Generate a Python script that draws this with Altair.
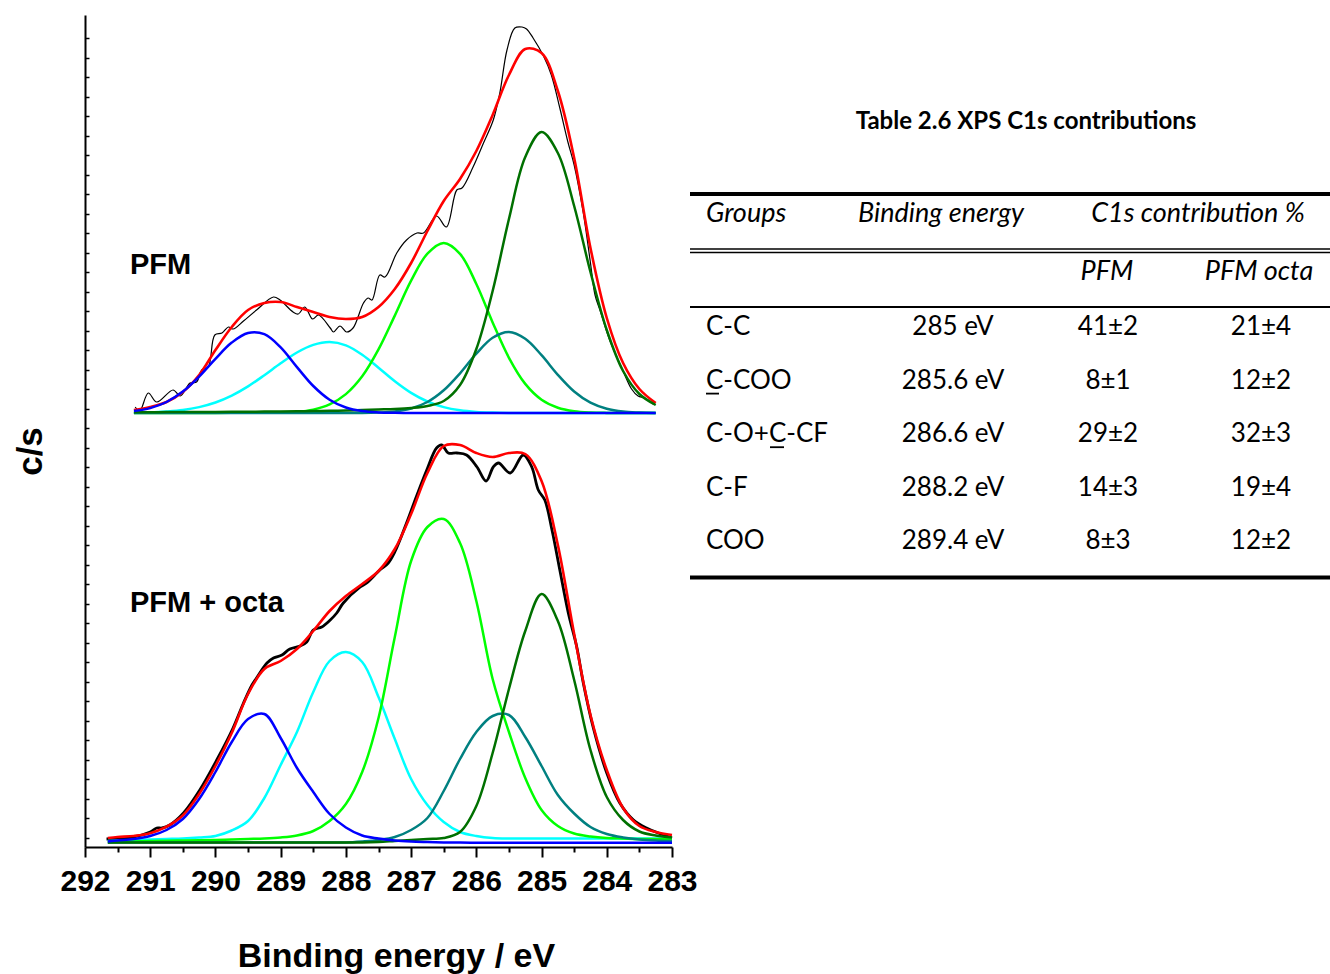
import altair as alt
import pandas as pd

# ------------------------------------------------------------------
# Values (XPS C1s spectra, c/s in a.u.)
# ------------------------------------------------------------------
PANELS = ["PFM", "PFM + octa"]
PANEL_OFFSET = [434, 4]          # vertical stacking offset of each spectrum (c/s, a.u.)

COMPONENTS = ["C-C", "C-COO", "C-O+C-CF", "C-F", "COO"]
COMP_COLORS = ["#007000", "#008080", "#00ff00", "#00ffff", "#0000ff"]

# ---------------- PFM (upper spectrum) ----------------
E_PFM = [291.25, 291.0, 290.75, 290.5, 290.25, 290.0, 289.75, 289.5, 289.25, 289.0,
         288.75, 288.5, 288.25, 288.0, 287.75, 287.5, 287.25, 287.0, 286.75, 286.5,
         286.25, 286.0, 285.75, 285.5, 285.25, 285.0, 284.75, 284.5, 284.25, 284.0,
         283.75, 283.5, 283.25]
PFM_CC = [0.7, 0.8, 0.9, 1.0, 1.0, 1.1, 1.2, 1.3, 1.4, 1.5,
          1.7, 2.0, 2.2, 2.5, 3.0, 3.5, 4.0, 5.0, 7.0, 12,
          28, 64, 122, 194, 256, 281, 260, 207, 141, 83,
          42, 19, 8]
PFM_CCOO = [0, 0, 0, 0, 0, 0, 0, 0, 0, 0,
            0, 0, 0, 0, 0, 0.5, 1.6, 4.5, 11, 22.7,
            39.7, 59.3, 75.2, 81, 74.2, 57.8, 38.2, 21.5, 10.3, 4.2,
            1.4, 0.5, 0.1]
PFM_CO = [0, 0, 0, 0, 0, 0.1, 0.2, 0.3, 0.4, 0.6,
          1.2, 3.4, 8.6, 18.9, 36.7, 63.6, 97.4, 132.3, 159.3, 170,
          159.1, 129, 90.6, 55.2, 29.1, 13.3, 5.3, 1.8, 0.5, 0.1,
          0, 0, 0]
PFM_CF = [0.3, 0.6, 1.5, 3.0, 5.9, 10.5, 17.4, 26.6, 37.8, 49.7,
          60.5, 68.1, 71.0, 67.7, 58.3, 45.3, 31.7, 20.1, 11.5, 5.9,
          2.7, 1.1, 0.4, 0.1, 0, 0, 0, 0, 0, 0,
          0, 0, 0]
PFM_COO = [1.9, 4.9, 11.0, 21.4, 36.4, 54.2, 70.4, 80.0, 78.8, 65.6,
           45.9, 27.0, 13.3, 5.5, 1.9, 0.6, 0.2, 0, 0, 0,
           0, 0, 0, 0, 0, 0, 0, 0, 0, 0,
           0, 0, 0]
PFM_FIT = [3, 6, 11, 21, 38, 63, 86, 103, 110, 111,
           106, 101, 96, 94, 96, 106, 124, 150, 182, 212,
           234, 262, 298, 338, 364, 360, 322, 255, 165, 95,
           50, 24, 10]
PFM_RAW_E = [291.23, 291.16, 291.03, 290.90, 290.65, 290.54, 290.39, 290.29, 290.21, 290.11,
             290.01, 289.90, 289.80, 289.73, 289.57, 289.37, 289.11, 289.01, 288.81, 288.73,
             288.63, 288.51, 288.42, 288.24, 288.19, 288.09, 287.99, 287.89, 287.73, 287.66,
             287.60, 287.48, 287.40, 287.22, 287.07, 286.91, 286.81, 286.61, 286.46, 286.30,
             286.22, 286.05, 285.89, 285.74, 285.64, 285.53, 285.41, 285.30, 285.23, 285.13,
             284.97, 284.85, 284.72, 284.60, 284.50, 284.36, 284.25, 284.18, 284.10, 283.95,
             283.75, 283.62, 283.52, 283.42, 283.29]
PFM_RAW = [6, 2, 20, 11, 23, 17, 30, 31, 43, 46,
           78, 80, 86, 84, 92, 103, 116, 113, 101, 99,
           106, 94, 98, 85, 81, 87, 81, 85, 110, 115,
           113, 138, 136, 160, 173, 180, 180, 197, 186, 223,
           225, 246, 270, 293, 320, 363, 385, 386, 384, 375,
           357, 338, 305, 272, 248, 200, 150, 118, 102, 72,
           42, 24, 17, 15, 9]

# ---------------- PFM + octa (lower spectrum) ----------------
E_OCTA = [291.65, 291.5, 291.25, 291.0, 290.75, 290.5, 290.25, 290.0, 289.75, 289.5,
          289.25, 289.0, 288.75, 288.5, 288.25, 288.0, 287.75, 287.5, 287.25, 287.0,
          286.75, 286.5, 286.25, 286.0, 285.75, 285.5, 285.25, 285.0, 284.75, 284.5,
          284.25, 284.0, 283.75, 283.5, 283.25, 283.0]
OCTA_CC = [0.5, 0.5, 0.5, 0.5, 0.5, 0.5, 0.5, 0.5, 0.5, 0.5,
           0.5, 0.5, 0.5, 0.5, 0.5, 0.5, 0.5, 1, 2, 3,
           4, 5, 11, 37, 90, 154, 212, 249, 222, 163,
           93, 46, 23, 11.5, 7.5, 5.5]
OCTA_CCOO = [0.5, 0.5, 0.5, 0.5, 0.5, 0.5, 0.5, 0.5, 0.5, 0.5,
             0.5, 0.5, 0.5, 0.5, 0.5, 0.5, 1.5, 3, 6, 13,
             25, 52, 84, 111, 127, 128, 106, 77, 48, 29.5,
             16, 9, 5.5, 3.5, 2.5, 2]
OCTA_CO = [1, 1.2, 1.5, 2, 2.2, 2.5, 2.8, 3, 3.5, 4,
           4.5, 5.5, 7.5, 12, 22, 39, 71, 125, 206, 282,
           316, 324, 300, 242, 164, 111, 65, 33, 17, 9.5,
           6.5, 5, 4.5, 4, 4, 3.5]
OCTA_CF = [2, 2.5, 3, 3.5, 4, 4.5, 5.5, 7, 12.5, 22,
           45, 78, 111, 151, 182, 191, 181, 146, 104, 64,
           38, 21, 11, 7, 5, 4.5, 4.5, 4.5, 4.5, 4.5,
           4.5, 4.5, 4.5, 4.5, 4.5, 4.5]
OCTA_COO = [1.5, 2.5, 4, 7, 13, 24, 44, 71, 101, 124,
            129, 105, 75, 51, 29, 15.5, 7.5, 4.5, 2.5, 1.5,
            1, 0.6, 0.4, 0.3, 0.2, 0.2, 0.2, 0.2, 0.2, 0.2,
            0.2, 0.2, 0.2, 0.2, 0.2, 0.2]
OCTA_FIT = [5, 6, 7, 9.7, 16.3, 27.5, 49, 77, 110, 149,
            174, 182, 194, 212, 232, 247, 259, 272, 294, 329,
            370, 397, 398, 390, 386, 390, 389, 362, 298, 209,
            128, 73, 35, 17, 11, 8]
OCTA_RAW_E = [291.67, 291.26, 291.00, 290.90, 290.82, 290.70, 290.49, 290.24, 289.98, 289.73,
              289.57, 289.44, 289.37, 289.21, 289.11, 288.98, 288.86, 288.70, 288.60, 288.50,
              288.37, 288.24, 288.14, 288.04, 287.78, 287.68, 287.48, 287.35, 287.25, 287.07,
              286.91, 286.76, 286.61, 286.53, 286.43, 286.30, 286.15, 285.99, 285.85, 285.74,
              285.66, 285.48, 285.28, 285.15, 285.05, 284.95, 284.84, 284.72, 284.59, 284.46,
              284.36, 284.21, 284.00, 283.80, 283.59, 283.39, 283.00]
OCTA_RAW = [4, 6, 11, 15, 15, 18, 30, 53, 83, 115,
            140, 158, 165, 180, 185, 188, 194, 197, 201, 213,
            216, 223, 230, 240, 256, 260, 273, 280, 291, 320,
            348, 373, 395, 398, 390, 390, 388, 376, 362, 376,
            380, 370, 388, 376, 353, 343, 313, 273, 230, 196,
            160, 116, 70, 40, 23, 15, 5]

# ---------------- Table 2.6 ----------------
TABLE_TITLE = "Table 2.6 XPS C1s contributions"
TABLE_HEAD_1 = ["Groups", "Binding energy", "C1s contribution %"]
TABLE_HEAD_2 = ["PFM", "PFM octa"]
TABLE_GROUPS = ["C-C", "C-COO", "C-O+C-CF", "C-F", "COO"]
TABLE_BE = ["285 eV", "285.6 eV", "286.6 eV", "288.2 eV", "289.4 eV"]
TABLE_PFM = ["41±2", "8±1", "29±2", "14±3", "8±3"]
TABLE_OCTA = ["21±4", "12±2", "32±3", "19±4", "12±2"]

X_TICKS = [292, 291.5, 291, 290.5, 290, 289.5, 289, 288.5, 288, 287.5, 287,
           286.5, 286, 285.5, 285, 284.5, 284, 283.5, 283]
# unlabelled inward ticks of the c/s axis (every 19.5 units, topmost at 808.7)
Y_TICKS = [round(808.7 - 19.5 * k, 1) for k in range(42)]

# ------------------------------------------------------------------
# Build tables
# ------------------------------------------------------------------
spectra = [
    (PANELS[0], PANEL_OFFSET[0], E_PFM, [PFM_CC, PFM_CCOO, PFM_CO, PFM_CF, PFM_COO], PFM_FIT, PFM_RAW_E, PFM_RAW),
    (PANELS[1], PANEL_OFFSET[1], E_OCTA, [OCTA_CC, OCTA_CCOO, OCTA_CO, OCTA_CF, OCTA_COO], OCTA_FIT, OCTA_RAW_E, OCTA_RAW),
]
comp_rows, fit_rows, raw_rows = [], [], []
for panel, off, E, comps, fit, rawE, raw in spectra:
    for name, vals in zip(COMPONENTS, comps):
        for e, v in zip(E, vals):
            comp_rows.append({"panel": panel, "component": name, "E": e, "cps": v + off})
    for e, v in zip(E, fit):
        fit_rows.append({"panel": panel, "E": e, "cps": v + off})
    for e, v in zip(rawE, raw):
        raw_rows.append({"panel": panel, "E": e, "cps": v + off})
comp_df = pd.DataFrame(comp_rows)
fit_df = pd.DataFrame(fit_rows)
raw_df = pd.DataFrame(raw_rows)

table_df = pd.DataFrame({"row": list(range(len(TABLE_GROUPS))), "group": TABLE_GROUPS,
                         "be": TABLE_BE, "pfm": TABLE_PFM, "octa": TABLE_OCTA})

# ------------------------------------------------------------------
# Styling / layout
# ------------------------------------------------------------------
AXIS_FONT = "Liberation Sans, Arial, sans-serif"
LABEL_FONT = "Liberation Sans, Arial, sans-serif"
TABLE_FONT = "Lato, Open Sans, sans-serif"
CURVE = "catmull-rom"

x_scale = alt.Scale(domain=[283, 292], reverse=True, nice=False, zero=False)
y_scale = alt.Scale(domain=[0, 832], nice=False, zero=False)

x_axis = alt.Axis(
    values=X_TICKS, grid=False,
    labelExpr="datum.value % 1 == 0 ? format(datum.value, 'd') : ''",
    tickSize={"condition": {"test": "datum.value % 1 != 0", "value": 5}, "value": 10},
    tickColor="black", tickWidth=2, domainColor="black", domainWidth=2,
    labelFont=AXIS_FONT, labelFontSize=30, labelFontWeight="bold", labelColor="black",
    labelPadding=9, labelFlush=False, labelOverlap=False,
    title="Binding energy / eV", titleFont=AXIS_FONT, titleFontSize=34,
    titleFontWeight="bold", titleColor="black", titleX=311, titleY=119,
    titleAlign="center", titleBaseline="alphabetic",
)
y_axis = alt.Axis(
    values=Y_TICKS, grid=False, labels=False,
    tickSize={"expr": "-4"}, tickColor="black", tickWidth=1.5,
    domainColor="black", domainWidth=2,
    title="c/s", titleFont=LABEL_FONT, titleFontSize=35, titleFontWeight="bold",
    titleColor="black", titleX=-55, titleY=436, titleAngle=270,
    titleAlign="center", titleBaseline="middle",
)

raw_layer = alt.Chart(raw_df).mark_line(interpolate=CURVE, color="black").encode(
    x=alt.X("E:Q", scale=x_scale, axis=x_axis),
    y=alt.Y("cps:Q", scale=y_scale, axis=y_axis),
    detail="panel:N",
    strokeWidth=alt.StrokeWidth("panel:N", scale=alt.Scale(domain=PANELS, range=[1.2, 2.8]), legend=None),
)
fit_layer = alt.Chart(fit_df).mark_line(interpolate=CURVE, color="#ff0000", strokeWidth=2.6).encode(
    x=alt.X("E:Q", scale=x_scale, axis=x_axis),
    y=alt.Y("cps:Q", scale=y_scale, axis=y_axis),
    detail="panel:N",
)
comp_layers = []
for name in ["C-F", "C-O+C-CF", "C-COO", "C-C", "COO"]:
    color = COMP_COLORS[COMPONENTS.index(name)]
    comp_layers.append(
        alt.Chart(comp_df[comp_df["component"] == name]).mark_line(
            interpolate=CURVE, color=color, strokeWidth=2.5
        ).encode(
            x=alt.X("E:Q", scale=x_scale, axis=x_axis),
            y=alt.Y("cps:Q", scale=y_scale, axis=y_axis),
            detail="panel:N",
        )
    )

panel_label_df = pd.DataFrame({"label": PANELS})
pfm_label = alt.Chart(panel_label_df.iloc[[0]]).mark_text(
    font=LABEL_FONT, fontSize=29, fontWeight="bold", align="left", baseline="middle", color="black"
).encode(x=alt.value(45), y=alt.value(249.5), text="label:N")
octa_label = alt.Chart(panel_label_df.iloc[[1]]).mark_text(
    font=LABEL_FONT, fontSize=29, fontWeight="bold", align="left", baseline="middle", color="black"
).encode(x=alt.value(45), y=alt.value(587.5), text="label:N")


# ---------------- table layers (pixel layout of the table) ----------------
ROW_TOP, ROW_STEP = 312, 53.6


def cell_col(field, xpos, align):
    return alt.Chart(table_df).mark_text(
        font=TABLE_FONT, fontSize=26, align=align, baseline="middle", color="black"
    ).transform_calculate(
        py=f"{ROW_TOP} + datum.row * {ROW_STEP}"
    ).encode(x=alt.value(xpos), y=alt.Y("py:Q", scale=None, axis=None), text=f"{field}:N")


def single_text(txt, xpos, ypos, size=27, weight="normal", style="normal", align="center"):
    return alt.Chart(pd.DataFrame({"t": [txt]})).mark_text(
        font=TABLE_FONT, fontSize=size, fontWeight=weight, fontStyle=style,
        align=align, baseline="middle", color="black"
    ).encode(x=alt.value(xpos), y=alt.value(ypos), text="t:N")


def hrule(x1, x2, ypos, width):
    return alt.Chart(pd.DataFrame({"k": [0]})).mark_rule(color="black", strokeWidth=width).encode(
        x=alt.value(x1), x2=alt.value(x2), y=alt.value(ypos)
    )


table_layers = [
    single_text(TABLE_TITLE, 941, 106.5, size=24, weight="bold"),
    hrule(605, 1245, 179, 4), hrule(605, 1245, 234, 1.6), hrule(605, 1245, 237.5, 1.6),
    hrule(605, 1245, 292, 2), hrule(605, 1245, 562.5, 4),
    single_text(TABLE_HEAD_1[0], 621, 199, style="italic", align="left"),
    single_text(TABLE_HEAD_1[1], 856, 199, style="italic"),
    single_text(TABLE_HEAD_1[2], 1113, 199, style="italic"),
    single_text(TABLE_HEAD_2[0], 1022, 256.7, style="italic"),
    single_text(TABLE_HEAD_2[1], 1174, 256.7, style="italic"),
    cell_col("group", 621, "left"),
    cell_col("be", 868, "center"),
    cell_col("pfm", 1023, "center"),
    cell_col("octa", 1176, "center"),
    # underlines of the marked carbon atoms in "C-COO" and "C-O+C-CF"
    hrule(621, 634, ROW_TOP + ROW_STEP + 13, 1.8),
    hrule(685, 699, ROW_TOP + 2 * ROW_STEP + 13, 1.8),
]

chart = alt.layer(
    raw_layer, fit_layer, *comp_layers, pfm_label, octa_label, *table_layers
).properties(
    width=587, height=832,
    autosize=alt.AutoSizeParams(type="none"),
    padding={"left": 85, "top": 15, "right": 658, "bottom": 127},
    background="white",
).configure_view(stroke=None)

chart.save("out.html", embed_options={"renderer": "svg", "actions": False})
